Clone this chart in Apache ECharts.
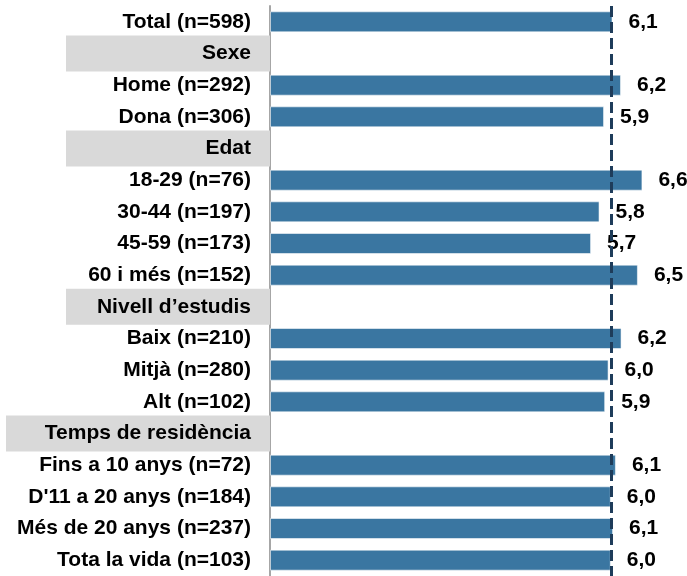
<!DOCTYPE html>
<html>
<head>
<meta charset="utf-8">
<script src="https://cdn.jsdelivr.net/npm/echarts@6/dist/echarts.min.js"></script>
<style>
  html, body { margin: 0; padding: 0; background: #fff; }
  #chart { width: 687px; height: 576px; }
</style>
</head>
<body>
<div id="chart"></div>
<script>
// files de la gràfica (de dalt a baix)
const categories = [
  'Total (n=598)',
  'Sexe',
  'Home (n=292)',
  'Dona (n=306)',
  'Edat',
  '18-29 (n=76)',
  '30-44 (n=197)',
  '45-59 (n=173)',
  '60 i més (n=152)',
  'Nivell d’estudis',
  'Baix (n=210)',
  'Mitjà (n=280)',
  'Alt (n=102)',
  'Temps de residència',
  'Fins a 10 anys (n=72)',
  "D'11 a 20 anys (n=184)",
  'Més de 20 anys (n=237)',
  'Tota la vida (n=103)'
];
// valoració mitjana (les capçaleres no tenen barra)
const values = [
  6.07,
  null,
  6.22, 5.92,
  null,
  6.60, 5.84, 5.69, 6.52,
  null,
  6.23, 6.00, 5.94,
  null,
  6.13, 6.04, 6.08, 6.04
];
const headers = ['Sexe', 'Edat', 'Nivell d’estudis'];
const wideHeaders = ['Temps de residència'];
const totalMean = 6.05; // línia discontínua del total

const chart = echarts.init(document.getElementById('chart'));

const font = 'Liberation Sans, Arial, sans-serif';

const option = {
  animation: false,
  grid: { left: 270, right: 22, top: 6, height: 574 },
  xAxis: {
    type: 'value',
    min: 0,
    max: 7,
    show: false
  },
  yAxis: {
    type: 'category',
    inverse: true,
    data: categories,
    axisTick: { show: false },
    axisLine: { show: true, lineStyle: { color: '#a6a6a6', width: 2 } },
    axisLabel: {
      margin: 0,
      fontFamily: font,
      fontSize: 21,
      fontWeight: 'bold',
      color: '#000',
      formatter: (v) => {
        if (headers.includes(v)) return '{hdr|' + v + '}';
        if (wideHeaders.includes(v)) return '{wide|' + v + '}';
        return '{lab|' + v + '}';
      },
      rich: {
        lab: {
          fontFamily: font, fontSize: 21, fontWeight: 'bold', color: '#000',
          padding: [0, 19, 0, 0]
        },
        hdr: {
          fontFamily: font, fontSize: 21, fontWeight: 'bold', color: '#000',
          backgroundColor: '#d9d9d9', width: 185, height: 36, align: 'right',
          padding: [0, 19, 0, 0]
        },
        wide: {
          fontFamily: font, fontSize: 21, fontWeight: 'bold', color: '#000',
          backgroundColor: '#d9d9d9', width: 245, height: 36, align: 'right',
          padding: [0, 19, 0, 0]
        }
      }
    }
  },
  series: [
    {
      type: 'bar',
      data: values,
      barWidth: 21,
      itemStyle: {
        color: '#3a76a1',
        borderColor: 'rgba(255,255,255,0.55)',
        borderWidth: 1
      },
      label: {
        show: true,
        position: 'right',
        distance: 16,
        fontFamily: font,
        fontSize: 21,
        fontWeight: 'bold',
        color: '#000',
        formatter: (p) => p.value.toFixed(1).replace('.', ',')
      },
      markLine: {
        silent: true,
        symbol: 'none',
        label: { show: false },
        lineStyle: { type: [11, 5], color: '#1e3c5a', width: 3 },
        data: [{ xAxis: totalMean }]
      }
    }
  ]
};

chart.setOption(option);
</script>
</body>
</html>
